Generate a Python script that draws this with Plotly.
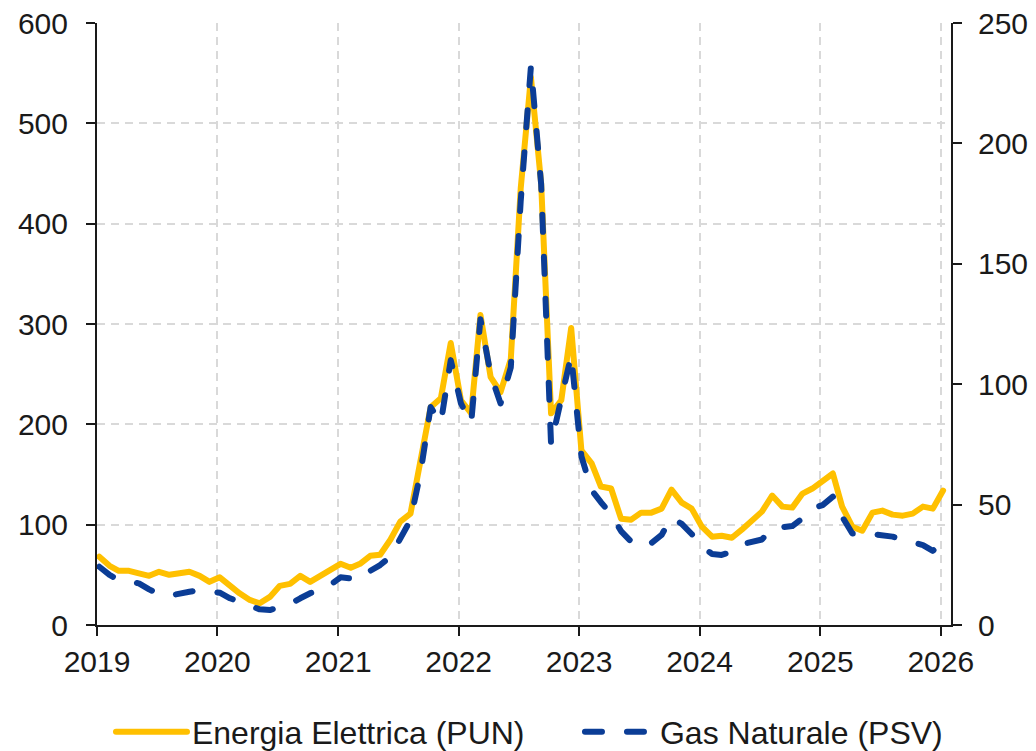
import pandas as pd
import plotly.graph_objects as go

# Monthly values, Jan 2019 - Jan 2026
months = pd.date_range("2019-01-01", periods=85, freq="MS") + pd.Timedelta(days=7)

pun = [
    68, 59, 54, 54, 51.5, 49, 53, 50, 51.5, 53, 49, 43,          # 2019
    47.5, 39, 31.6, 25, 21.6, 28, 39, 41, 49, 43, 49, 54,        # 2020
    61, 57, 61, 69, 70, 85, 103, 111, 165, 217, 226, 281,        # 2021
    224, 211, 309, 247, 232, 265, 435, 546, 440, 211, 224, 296,  # 2022
    174, 161, 138, 136, 106, 105, 112, 112, 116, 135, 122, 116,  # 2023
    98, 88, 89, 87, 95, 104, 113, 129, 118, 117, 131, 136,       # 2024
    143, 151, 118, 98, 94, 112, 114, 110, 109, 111, 118, 116,    # 2025
    134,                                                          # 2026
]

psv = [
    24.2, 20.8, 18.7, 18.0, 17.3, 14.8, 12.8, 12.2, 12.7, 13.8, 14.5, 14.2,  # 2019
    13.4, 11.1, 9.7, 8.3, 6.5, 6.2, 7.6, 8.7, 11.1, 13.2, 14.5, 16.6,        # 2020
    19.8, 19.2, 19.0, 22.5, 24.9, 28.4, 35.3, 43.6, 63.7, 90.5, 84, 110,     # 2021
    92, 84, 127, 104, 92, 107, 176, 232, 183, 75, 94, 112,                   # 2022
    70, 56, 51, 46, 39, 34.6, 32.5, 34, 37.4, 44.6, 42, 37.8,                # 2023
    32.5, 29.5, 29.1, 30.4, 33.5, 34.6, 35.5, 40.1, 40.6, 41.1, 44.3, 48.4,  # 2024
    49.8, 53.3, 45, 38, 38.3, 37.8, 37.3, 36.7, 35.5, 34.6, 33.2, 30.8,      # 2025
    34.6,                                                                     # 2026
]

name_pun = "Energia Elettrica (PUN)"
name_psv = "Gas Naturale (PSV)"

FONT = "Arial, Liberation Sans, sans-serif"
GRID = "#d9d9d9"
INK = "#1a1a1a"

fig = go.Figure()
fig.add_trace(go.Scatter(
    x=months, y=pun, name=name_pun, mode="lines",
    line=dict(color="#FFC000", width=6), legend="legend",
))
fig.add_trace(go.Scatter(
    x=months, y=psv, name=name_psv, mode="lines", yaxis="y2",
    line=dict(color="#0B3D96", width=6, dash="17px,25px"), legend="legend2",
))

axis_common = dict(
    showline=True, linecolor=INK, linewidth=2,
    ticks="outside", ticklen=9, tickwidth=2, tickcolor=INK,
    zeroline=False, automargin=False, ticklabeloverflow="allow",
)

legend_common = dict(
    orientation="h", xref="container", yref="container",
    xanchor="left", y=0.036, yanchor="middle",
    font=dict(size=32, family=FONT, color=INK),
    bgcolor="rgba(0,0,0,0)", borderwidth=0,
)

fig.update_layout(
    width=1036, height=751,
    margin=dict(l=89, r=93, t=15, b=134, autoexpand=False),
    paper_bgcolor="white", plot_bgcolor="white",
    font=dict(family=FONT, size=30, color=INK),
    showlegend=True,
    legend=dict(x=0.0994, itemwidth=71, **legend_common),
    legend2=dict(x=0.5521, itemwidth=70, **legend_common),
    xaxis=dict(
        type="date", range=["2019-01-01", "2026-02-01"],
        tick0="2019-01-01", dtick="M12", tickformat="%Y",
        showgrid=True, gridcolor=GRID, gridwidth=1.5, griddash="8px,6px",
        ticklabelstandoff=0,
        **axis_common,
    ),
    yaxis=dict(
        range=[0, 600], dtick=100,
        showgrid=True, gridcolor=GRID, gridwidth=1.5, griddash="8px,6px",
        ticklabelstandoff=12,
        **axis_common,
    ),
    yaxis2=dict(
        range=[0, 250], dtick=50, overlaying="y", side="right",
        showgrid=False,
        ticklabelstandoff=10,
        **axis_common,
    ),
)

round_caps = """
var gd = document.getElementById('{plot_id}');
function roundCaps() {
  gd.querySelectorAll('.scatterlayer path.js-line, .legendlines path').forEach(function (p) {
    p.style.strokeLinecap = 'round';
    p.style.strokeLinejoin = 'round';
  });
}
roundCaps();
if (gd.on) { gd.on('plotly_afterplot', roundCaps); }
"""

fig.write_html("out.html", post_script=round_caps)
